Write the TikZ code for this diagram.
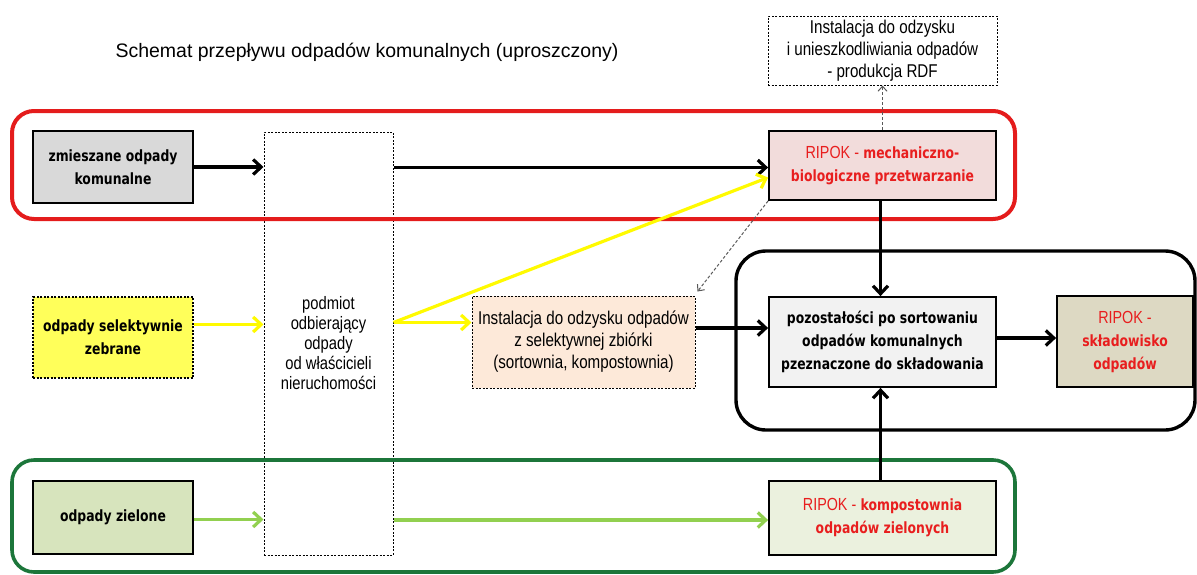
\documentclass[tikz,border=0pt]{standalone}
\usepackage{fontspec}
\setmainfont{Liberation Sans}
\newfontfamily\narrowfont[FakeStretch=0.82]{Liberation Sans}
\newfontfamily\wastefont[FakeStretch=0.8]{DejaVu Sans}
\usetikzlibrary{arrows.meta}

\definecolor{frameRed}{RGB}{228,28,28}
\definecolor{frameGreen}{RGB}{28,118,58}
\definecolor{ripRed}{RGB}{232,30,30}
\definecolor{lineYellow}{RGB}{255,250,0}
\definecolor{lineGreen}{RGB}{146,208,80}
\definecolor{fillMixed}{RGB}{217,217,217}
\definecolor{fillYellow}{RGB}{255,255,90}
\definecolor{fillGreen}{RGB}{215,228,189}
\definecolor{fillMbp}{RGB}{242,220,219}
\definecolor{fillInst}{RGB}{253,233,217}
\definecolor{fillRest}{RGB}{242,242,242}
\definecolor{fillLand}{RGB}{221,217,195}
\definecolor{fillKomp}{RGB}{235,241,222}

\newcommand{\ripok}[1]{{\narrowfont\mdseries\fontsize{17.5}{23}\selectfont #1}}

\begin{document}
\begin{tikzpicture}[x=1pt,y=-1pt,
    wastebox/.style={draw, line width=1.8pt, align=center, inner sep=0pt,
        font=\wastefont\bfseries\fontsize{15.5}{23}\selectfont},
    ripbox/.style={wastebox, text=ripRed},
    dashbox/.style={draw, line width=1pt, dash pattern=on 2pt off 1.5pt, align=center,
        inner sep=0pt, font=\narrowfont\fontsize{18.5}{22}\selectfont},
    flow/.style={line width=3.2pt, -{Straight Barb[length=8pt,width=15pt]}},
    hint/.style={gray!70!black, line width=1pt, dash pattern=on 3pt off 2pt,
        -{Straight Barb[length=5pt,width=9pt]}}]

    \useasboundingbox (0,0) rectangle (1197,574);

    % title
    \node[font=\fontsize{19.5}{23}\selectfont] (title) at (367,52) {Schemat przepływu odpadów komunalnych (uproszczony)};

    % sources
    \node[wastebox, fill=fillMixed, minimum width=160pt, minimum height=72pt] (zmies) at (113,167) {zmieszane odpady\\komunalne};
    \node[wastebox, fill=fillYellow, dash pattern=on 2pt off 1.5pt, line width=1.2pt, minimum width=160pt, minimum height=81pt] (selekt) at (113,337.5) {odpady selektywnie\\zebrane};
    \node[wastebox, fill=fillGreen, minimum width=160pt, minimum height=73pt] (ziel) at (113,517.5) {odpady zielone};

    % collector
    \node[dashbox, minimum width=129pt, minimum height=423pt, font=\narrowfont\fontsize{18}{20}\selectfont] (podmiot) at (328.5,343.5) {podmiot\\odbierający\\odpady\\od właścicieli\\nieruchomości};

    % installations
    \node[dashbox, minimum width=229pt, minimum height=69pt] (rdf) at (882.5,50.5) {Instalacja do odzysku\\i unieszkodliwiania odpadów\\- produkcja RDF};
    \node[ripbox, fill=fillMbp, minimum width=227pt, minimum height=69pt] (mbp) at (882.5,165.5) {\ripok{RIPOK -} mechaniczno-\\biologiczne przetwarzanie};
    \node[dashbox, fill=fillInst, minimum width=223pt, minimum height=92pt] (inst) at (583.5,342) {Instalacja do odzysku odpadów\\z selektywnej zbiórki\\(sortownia, kompostownia)};
    \node[wastebox, fill=fillRest, minimum width=227pt, minimum height=90pt] (pozost) at (882.5,342) {pozostałości po sortowaniu\\odpadów komunalnych\\pzeznaczone do składowania};
    \node[ripbox, fill=fillLand, minimum width=136pt, minimum height=91pt] (sklad) at (1125,341.5) {\ripok{RIPOK -}\\składowisko\\odpadów};
    \node[ripbox, fill=fillKomp, minimum width=227pt, minimum height=74pt] (kompost) at (882.5,518) {\ripok{RIPOK -} kompostownia\\odpadów zielonych};

    % frames
    \draw[frameRed, line width=4pt, rounded corners=22pt] (12,111) rectangle (1015,219);
    \draw[black, line width=3.4pt, rounded corners=30pt] (736,251) rectangle (1195,430);
    \draw[frameGreen, line width=3.6pt, rounded corners=22pt] (12,460) rectangle (1015,572);

    % mixed waste
    \draw[flow] (zmies.east) -- (zmies.east -| podmiot.west);
    \draw[flow] ([yshift=-2pt]podmiot.east |- mbp.west) -- ([yshift=-2pt]mbp.west);

    % selective
    \draw[flow, lineYellow] ([yshift=13pt]selekt.east) -- ([yshift=13pt]selekt.east -| podmiot.west);
    \draw[flow, lineYellow] ([yshift=21pt]podmiot.east) -- ([yshift=-12pt]mbp.west);
    \draw[flow, lineYellow] ([yshift=21pt]podmiot.east) -- ([yshift=21pt]podmiot.east -| inst.west);

    % green
    \draw[flow, lineGreen] ([yshift=-2pt]ziel.east) -- ([yshift=-2pt]ziel.east -| podmiot.west);
    \draw[flow, lineGreen] ([yshift=-2pt]podmiot.east |- kompost.west) -- ([yshift=-2pt]kompost.west);

    % residues
    \draw[flow] ([yshift=14pt]inst.east) -- ([yshift=14pt]inst.east -| pozost.west);
    \draw[flow] ([xshift=-2pt]mbp.south) -- ([xshift=-2pt]pozost.north);
    \draw[flow] ([xshift=-2pt]kompost.north) -- ([xshift=-2pt]pozost.south);
    \draw[flow] ([yshift=4pt]pozost.east) -- ([yshift=4pt]pozost.east -| sklad.west);

    %dashed links
    \draw[hint] (mbp.north) -- (rdf.south);
    \draw[hint] (mbp.south west) -- ([xshift=2pt,yshift=4pt]inst.north east);
\end{tikzpicture}
\end{document}
